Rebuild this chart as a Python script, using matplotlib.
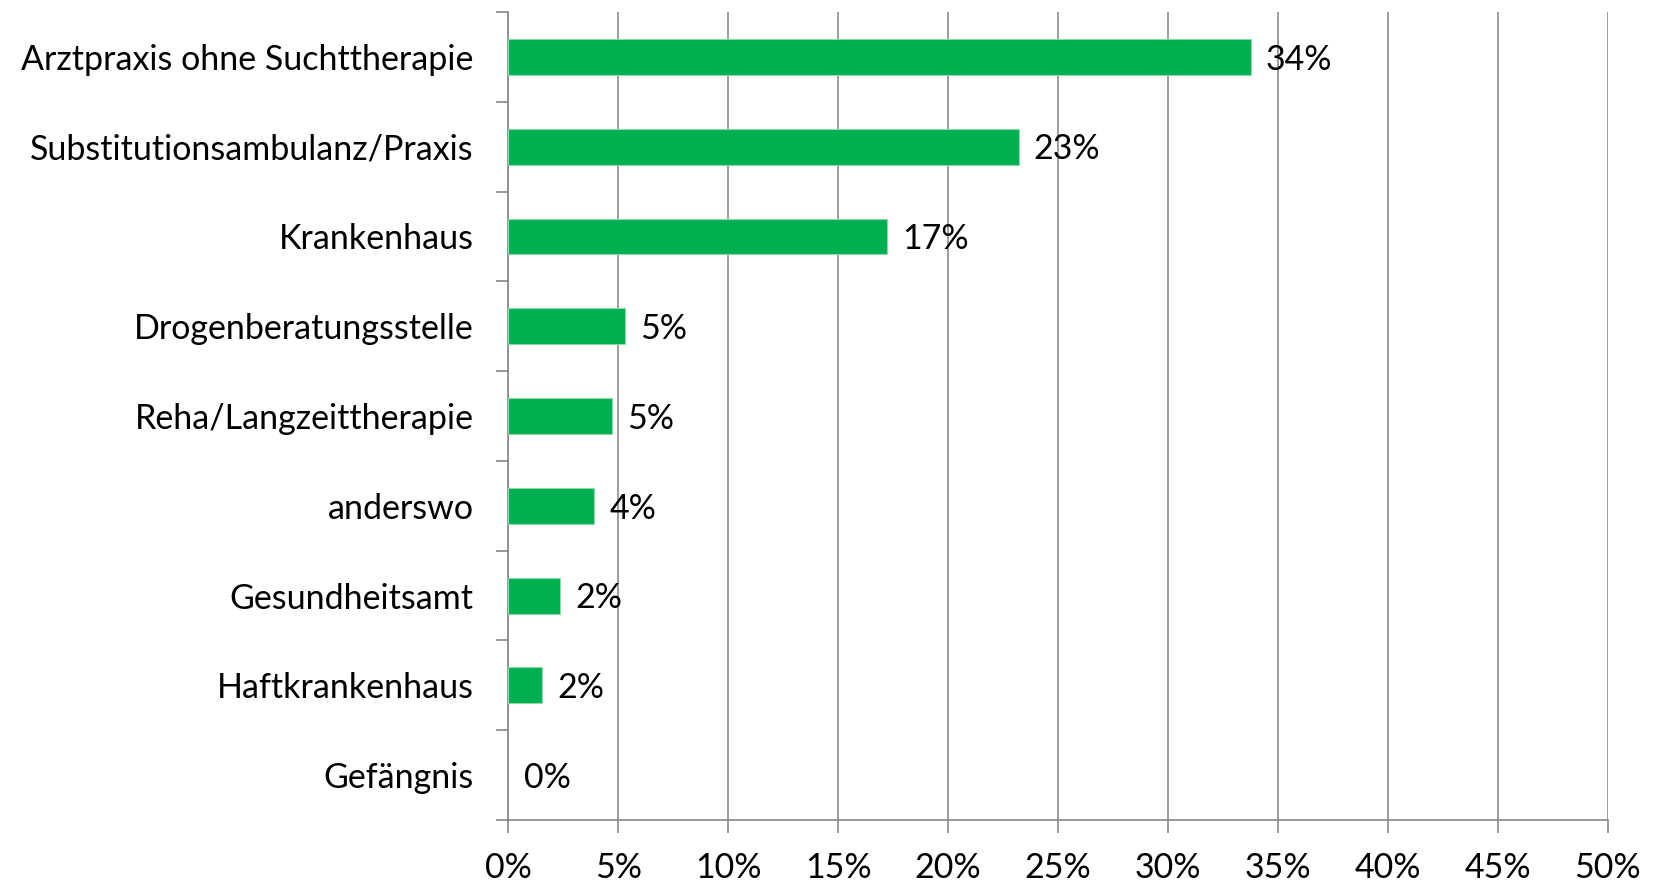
import matplotlib

matplotlib.use("Agg")
import matplotlib.pyplot as plt
from matplotlib.ticker import MultipleLocator, PercentFormatter

# Anteile je Einrichtung (in Prozent), von oben nach unten
categories = [
    "Arztpraxis ohne Suchttherapie",
    "Substitutionsambulanz/Praxis",
    "Krankenhaus",
    "Drogenberatungsstelle",
    "Reha/Langzeittherapie",
    "anderswo",
    "Gesundheitsamt",
    "Haftkrankenhaus",
    "Gefängnis",
]
shares = [33.75, 23.2, 17.2, 5.3, 4.7, 3.9, 2.35, 1.55, 0.0]
labels = ["34%", "23%", "17%", "5%", "5%", "4%", "2%", "2%", "0%"]

plt.rcParams["font.family"] = ["Lato", "DejaVu Sans"]
plt.rcParams["font.size"] = 24.5

fig = plt.figure(figsize=(16.58, 8.84), dpi=100)
ax = fig.add_axes([0.3066, 0.0724, 0.6632, 0.914])

positions = list(range(len(categories)))
ax.barh(positions, shares, height=0.4, color="#00B050",
        edgecolor="#8FD9A8", linewidth=[0.8 if v > 0 else 0 for v in shares],
        zorder=3)

for pos, value, text in zip(positions, shares, labels):
    ax.annotate(text, (value, pos), xytext=(11, -2), textcoords="offset points",
                ha="left", va="center", fontsize=24.5, zorder=4)

ax.set_xlim(0, 50)
ax.set_ylim(len(categories) - 0.5, -0.5)
ax.xaxis.set_major_locator(MultipleLocator(5))
ax.xaxis.set_major_formatter(PercentFormatter(decimals=0))

# Kategorie-Ticks liegen zwischen den Balken
ax.set_yticks([p - 0.5 for p in positions] + [len(categories) - 0.5])
ax.set_yticklabels([])
ax.set_yticks(positions, minor=True)
ax.set_yticklabels(categories, minor=True)
ax.tick_params(axis="y", which="minor", length=0, pad=25)
ax.tick_params(axis="y", which="major", length=9, width=1.2, color="#888888",
               direction="out")
ax.tick_params(axis="x", length=9, width=1.2, color="#888888",
               direction="out", pad=14)

ax.grid(axis="x", color="#8c8c8c", linewidth=1.2, zorder=0)
for side in ("top", "right"):
    ax.spines[side].set_visible(False)
for side in ("left", "bottom"):
    ax.spines[side].set_color("#888888")
    ax.spines[side].set_linewidth(1.2)

fig.savefig("out.png", dpi=100)
